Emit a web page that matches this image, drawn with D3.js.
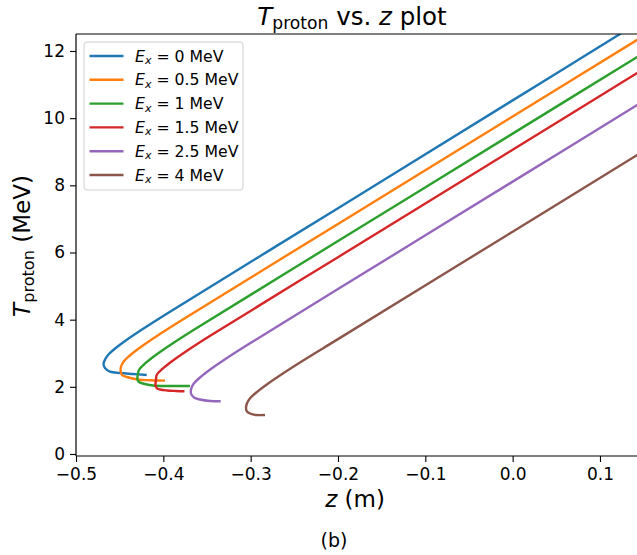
<!DOCTYPE html>
<html>
<head>
<meta charset="utf-8">
<script src="https://cdn.jsdelivr.net/npm/d3@7"></script>
<style>
  html, body { margin: 0; padding: 0; background: #fff; }
  svg { display: block; }
  text { font-family: "DejaVu Sans", sans-serif; fill: #000; }
</style>
</head>
<body>
<div id="chart"></div>
<script>
// ---- Data ----
const exLabels = ["0", "0.5", "1", "1.5", "2.5", "4"];

const zEx0  = [-0.4190, -0.4347, -0.4496, -0.4611, -0.4668, -0.4685, -0.4664, -0.4623, -0.4545, -0.4422, -0.4235, -0.3965, -0.2, 0.0, 0.13];
const tEx0  = [2.352, 2.382, 2.412, 2.451, 2.561, 2.680, 2.829, 2.978, 3.156, 3.395, 3.722, 4.169, 7.32, 10.53, 12.62];

const zEx05 = [-0.3981, -0.4153, -0.4290, -0.4416, -0.4473, -0.4488, -0.4484, -0.4454, -0.4383, -0.4266, -0.4082, -0.3814, -0.2, 0.0, 0.16];
const tEx05 = [2.183, 2.195, 2.218, 2.293, 2.352, 2.457, 2.605, 2.754, 2.933, 3.171, 3.499, 3.945, 6.85, 10.05, 12.61];

const zEx1  = [-0.3695, -0.3924, -0.4118, -0.4233, -0.4279, -0.4296, -0.4292, -0.4276, -0.4209, -0.4094, -0.3912, -0.3645, -0.2, 0.0, 0.16];
const tEx1  = [2.025, 2.025, 2.040, 2.099, 2.144, 2.218, 2.367, 2.516, 2.695, 2.933, 3.261, 3.707, 6.34, 9.54, 12.10];

const zEx15 = [-0.3758, -0.3855, -0.3958, -0.4038, -0.4078, -0.4090, -0.4084, -0.4076, -0.4011, -0.3897, -0.3716, -0.3450, -0.2, 0.0, 0.16];
const tEx15 = [1.867, 1.876, 1.891, 1.921, 1.965, 2.055, 2.204, 2.352, 2.531, 2.769, 3.097, 3.543, 5.86, 9.06, 11.62];

const zEx25 = [-0.3343, -0.3466, -0.3580, -0.3649, -0.3683, -0.3680, -0.3651, -0.3580, -0.3463, -0.3280, -0.3012, -0.2, 0.0, 0.16];
const tEx25 = [1.569, 1.578, 1.623, 1.682, 1.801, 1.950, 2.099, 2.278, 2.516, 2.844, 3.290, 4.91, 8.11, 10.67];

const zEx4  = [-0.2836, -0.2939, -0.3008, -0.3042, -0.3053, -0.3043, -0.3009, -0.2935, -0.2815, -0.2631, -0.2362, -0.2, 0.0, 0.16];
const tEx4  = [1.161, 1.161, 1.206, 1.266, 1.355, 1.504, 1.653, 1.831, 2.070, 2.397, 2.844, 3.42, 6.62, 9.18];

const xTicks = [-0.5, -0.4, -0.3, -0.2, -0.1, 0.0, 0.1];
const yTicks = [0, 2, 4, 6, 8, 10, 12];

const seriesZ = [zEx0, zEx05, zEx1, zEx15, zEx25, zEx4];
const seriesT = [tEx0, tEx05, tEx1, tEx15, tEx25, tEx4];
const colors = ["#1f77b4", "#ff7f0e", "#2ca02c", "#d62728", "#9467bd", "#8c564b"];

// ---- Layout ----
const W = 637, H = 555;
const L = 76, R = 637, T = 34, B = 456;

const x = d3.scaleLinear().domain([-0.5, -0.5 + (R - L) / 873.3]).range([L, R]);
const y = d3.scaleLinear().domain([-0.06, 12.506]).range([B, T]);

const svg = d3.select("#chart").append("svg")
  .attr("width", W).attr("height", H);

svg.append("defs").append("clipPath").attr("id", "clip")
  .append("rect").attr("x", L).attr("y", T).attr("width", R - L).attr("height", B - T);

// ---- Curves ----
const line = d3.line()
  .x(d => x(d[0]))
  .y(d => y(d[1]))
  .curve(d3.curveCatmullRom.alpha(0.5));

const plot = svg.append("g").attr("clip-path", "url(#clip)");
seriesZ.forEach((zs, i) => {
  const pts = zs.map((z, j) => [z, seriesT[i][j]]);
  plot.append("path")
    .attr("d", line(pts))
    .attr("fill", "none")
    .attr("stroke", colors[i])
    .attr("stroke-width", 2.4)
    .attr("stroke-linecap", "butt")
    .attr("stroke-linejoin", "round");
});

// ---- Axes ----
const fmtX = d => (d < 0 ? "\u2212" : "") + d3.format(".1f")(Math.abs(d));
const xAxis = d3.axisBottom(x).tickValues(xTicks).tickFormat(fmtX).tickSize(6).tickPadding(5);
const yAxis = d3.axisLeft(y).tickValues(yTicks).tickFormat(d3.format("d")).tickSize(6).tickPadding(5);

const gx = svg.append("g").attr("transform", `translate(0,${B})`).call(xAxis);
const gy = svg.append("g").attr("transform", `translate(${L},0)`).call(yAxis);
[gx, gy].forEach(g => {
  g.select(".domain").remove();
  g.selectAll(".tick line").attr("stroke", "#000").attr("stroke-width", 1.1);
  g.selectAll(".tick text").attr("font-family", "DejaVu Sans").attr("font-size", 17).attr("fill", "#000");
});
gx.selectAll(".tick text").attr("dy", "0.78em");

// spines: left, bottom, top (right spine is outside the picture)
const spine = svg.append("g").attr("stroke", "#000").attr("stroke-width", 1.2).attr("fill", "none");
spine.append("line").attr("x1", L).attr("x2", L).attr("y1", T).attr("y2", B);
spine.append("line").attr("x1", L).attr("x2", R).attr("y1", B).attr("y2", B);
spine.append("line").attr("x1", L).attr("x2", R).attr("y1", T).attr("y2", T);

// ---- Title ----
const title = svg.append("text").attr("x", 352).attr("y", 25)
  .attr("text-anchor", "middle").attr("font-size", 24.5);
title.append("tspan").attr("font-style", "italic").text("T");
title.append("tspan").attr("font-size", "70%").attr("dy", "0.22em").text("proton");
title.append("tspan").attr("dy", "-0.154em").text(" vs. ");
title.append("tspan").attr("font-style", "italic").text("z");
title.append("tspan").text(" plot");

// ---- Axis labels ----
const xl = svg.append("text").attr("x", 355).attr("y", 507)
  .attr("text-anchor", "middle").attr("font-size", 23);
xl.append("tspan").attr("font-style", "italic").text("z");
xl.append("tspan").text(" (m)");

const yl = svg.append("text")
  .attr("transform", "translate(30,246) rotate(-90)")
  .attr("text-anchor", "middle").attr("font-size", 23);
yl.append("tspan").attr("font-style", "italic").text("T");
yl.append("tspan").attr("font-size", "70%").attr("dy", "0.22em").text("proton");
yl.append("tspan").attr("dy", "-0.154em").text(" (MeV)");

// ---- Legend ----
const lg = svg.append("g");
lg.append("rect").attr("x", 84).attr("y", 42).attr("width", 159).attr("height", 148)
  .attr("rx", 3).attr("fill", "#fff").attr("fill-opacity", 0.8)
  .attr("stroke", "#d0d0d0").attr("stroke-width", 1);
exLabels.forEach((lab, i) => {
  const cy = 56 + i * 23.8;
  lg.append("line").attr("x1", 89.5).attr("x2", 123.5).attr("y1", cy).attr("y2", cy)
    .attr("stroke", colors[i]).attr("stroke-width", 2.4);
  const t = lg.append("text").attr("x", 135).attr("y", cy + 5.6).attr("font-size", 15.7);
  t.append("tspan").attr("font-style", "italic").text("E");
  t.append("tspan").attr("font-style", "italic").attr("font-size", "70%").attr("dy", "0.22em").text("x");
  t.append("tspan").attr("dy", "-0.154em").text(" = " + lab + " MeV");
});

// ---- Caption ----
svg.append("text").attr("x", 334).attr("y", 547).attr("text-anchor", "middle")
  .attr("font-family", "Liberation Serif, DejaVu Serif, serif").attr("font-size", 19).text("(b)");
</script>
</body>
</html>
